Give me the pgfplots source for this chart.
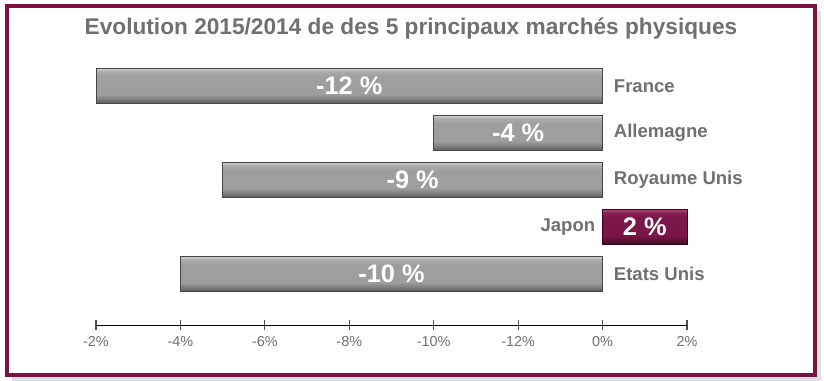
\documentclass[border=0pt]{standalone}
\usepackage{pgfplots}
\pgfplotsset{compat=1.18}
\usepackage{fontspec}
\setmainfont{Liberation Sans}
\definecolor{frame}{RGB}{122,18,66}
\definecolor{txt}{RGB}{112,112,112}
\definecolor{ga}{RGB}{90,90,90}
\definecolor{gb}{RGB}{120,120,120}
\definecolor{gc}{RGB}{158,158,158}
\definecolor{gd}{RGB}{172,172,172}
\definecolor{ge}{RGB}{205,205,205}
\definecolor{ma}{RGB}{65,8,35}
\definecolor{mb}{RGB}{92,14,50}
\definecolor{mc}{RGB}{122,22,72}
\definecolor{md}{RGB}{138,36,86}
\definecolor{me}{RGB}{170,75,120}
\pgfdeclareverticalshading{graybar}{100bp}{color(0bp)=(ga); color(25bp)=(ga); color(30bp)=(gb); color(38bp)=(gc); color(64bp)=(gc); color(71bp)=(gd); color(75bp)=(ge); color(100bp)=(ge)}
\pgfdeclareverticalshading{maroonbar}{100bp}{color(0bp)=(ma); color(25bp)=(ma); color(30bp)=(mb); color(38bp)=(mc); color(64bp)=(mc); color(71bp)=(md); color(75bp)=(me); color(100bp)=(me)}
\begin{document}
\begin{tikzpicture}[x=0.75pt,y=0.75pt]
\path[use as bounding box] (0,0) rectangle (824,381);
\fill[black!12] (12,0) rectangle (821,370);
\fill[white] (7,6) rectangle (815,375);
\draw[frame, line width=2.4pt] (7,6) rectangle (815,375);
\node[txt, font=\bfseries\fontsize{17}{20}\selectfont] at (411,352) {Evolution 2015/2014 de des 5 principaux marchés physiques};
\begin{axis}[
  at={(72pt,42pt)}, anchor=south west,
  scale only axis, width=443.25pt, height=200.4pt,
  xmin=-12, xmax=2, ymin=-1.085, ymax=4.6,
  axis x line*=bottom, axis y line=none,
  clip=false,
  xtick={-12,-10,-8,-6,-4,-2,0,2},
  xticklabels={-2\%,-4\%,-6\%,-8\%,-10\%,-12\%,0\%,2\%},
  tick align=center, major tick length=8pt,
  x tick style={black!70, line width=0.8pt},
  x axis line style={black, line width=0.7pt, -},
  x tick label style={txt, font=\fontsize{10.8}{12}\selectfont, yshift=-1pt},
  ytick=\empty,
  xbar, bar width=26pt, bar shift=0pt,
  graybar/.style={xbar, bar shift=0pt, draw={rgb,255:red,70;green,70;blue,70}, line width=0.6pt, shade, shading=graybar},
]
\addplot[graybar] coordinates {(-12,4)};
\addplot[graybar] coordinates {(-4,3)};
\addplot[graybar] coordinates {(-9,2)};
\addplot[xbar, bar shift=0pt, draw={rgb,255:red,50;green,5;blue,25}, line width=0.6pt, shade, shading=maroonbar]
  coordinates {(2,1)};
\addplot[graybar] coordinates {(-10,0)};
\begin{scope}[every node/.style={white, font=\bfseries\fontsize{19}{21}\selectfont}]
\node at (axis cs:-6,4) {-12 \%};
\node at (axis cs:-2,3) {-4 \%};
\node at (axis cs:-4.5,2) {-9 \%};
\node at (axis cs:1,1) {2 \%};
\node at (axis cs:-5,0) {-10 \%};
\end{scope}
\begin{scope}[every node/.style={txt, font=\bfseries\fontsize{13.9}{16}\selectfont}]
\node[anchor=west] at ([xshift=5pt]axis cs:0,4) {France};
\node[anchor=west] at ([xshift=5pt]axis cs:0,3) {Allemagne};
\node[anchor=west] at ([xshift=5pt]axis cs:0,2) {Royaume Unis};
\node[anchor=east] at ([xshift=-2pt]axis cs:0,1) {Japon};
\node[anchor=west] at ([xshift=5pt]axis cs:0,0) {Etats Unis};
\end{scope}
\end{axis}
\end{tikzpicture}
\end{document}
